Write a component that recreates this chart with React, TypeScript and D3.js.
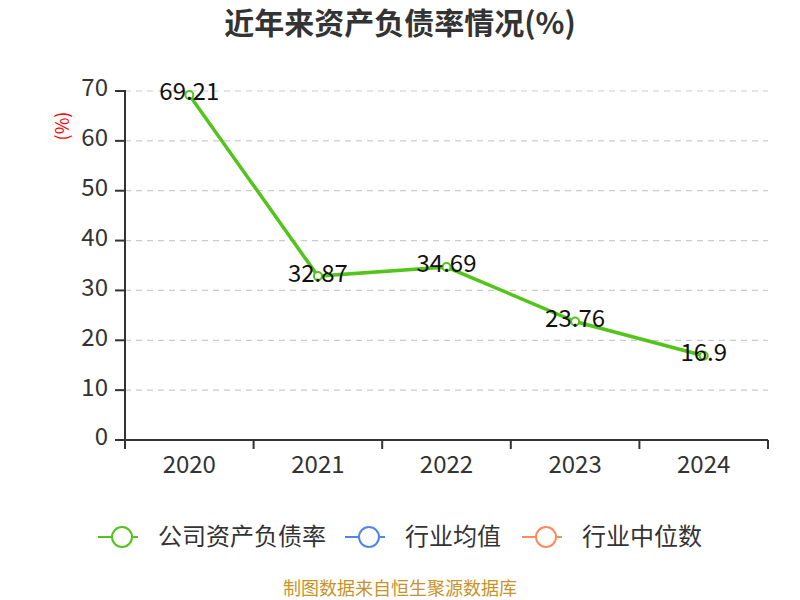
import React from "react";
import * as d3 from "d3";

const categories = ["2020", "2021", "2022", "2023", "2024"];
const companyValues = [69.21, 32.87, 34.69, 23.76, 16.9];
const yTicks = [0, 10, 20, 30, 40, 50, 60, 70];
const legendItems = [
  { name: "公司资产负债率", color: "#52c41a" },
  { name: "行业均值", color: "#4f86e8" },
  { name: "行业中位数", color: "#ff8a5c" },
];

const W = 800, H = 600;
const left = 125, right = 768, top = 91, bottom = 440;
const font = "'Noto Sans CJK SC', 'Noto Sans', sans-serif";

export default function App() {
  const x = d3.scaleBand<string>().domain(categories).range([left, right]);
  const y = d3.scaleLinear().domain([0, 70]).range([bottom, top]);
  const line = d3
    .line<number>()
    .x((_, i) => (x(categories[i]) as number) + x.bandwidth() / 2)
    .y((d) => y(d));
  const green = "#52c41a";
  const legendX = [98, 345, 522];
  return (
    <svg width={W} height={H} style={{ position: "absolute", left: 0, top: 0, fontFamily: font }}>
      <text x={400} y={23} dy="0.36em" textAnchor="middle" fontSize={30} fontWeight="bold" fill="#333">
        近年来资产负债率情况(%)
      </text>
      <text
        x={0}
        y={0}
        dy="0.35em"
        transform={`translate(63,126) rotate(-90)`}
        textAnchor="middle"
        fontSize={18}
        fill="#ff0000"
      >
        (%)
      </text>
      {yTicks.map((t) => (
        <g key={t}>
          {t > 0 && (
            <line x1={left} x2={right} y1={y(t)} y2={y(t)} stroke="#ccc" strokeDasharray="6,5" strokeWidth={1.2} />
          )}
          <line x1={left - 10} x2={left} y1={y(t)} y2={y(t)} stroke="#333" strokeWidth={2} />
          <text x={left - 17} y={y(t) - 3} dy="0.35em" textAnchor="end" fontSize={24} fill="#333">
            {t}
          </text>
        </g>
      ))}
      <line x1={left} x2={left} y1={top - 1} y2={bottom} stroke="#333" strokeWidth={2} />
      <line x1={left} x2={right} y1={bottom} y2={bottom} stroke="#333" strokeWidth={2} />
      {[...categories.map((c) => x(c) as number), right].map((t, i) => (
        <line key={i} x1={t} x2={t} y1={bottom} y2={bottom + 9} stroke="#333" strokeWidth={2} />
      ))}
      {categories.map((c) => (
        <text
          key={c}
          x={(x(c) as number) + x.bandwidth() / 2}
          y={465}
          dy="0.35em"
          textAnchor="middle"
          fontSize={24}
          fill="#333"
        >
          {c}
        </text>
      ))}
      <path d={line(companyValues) || ""} fill="none" stroke={green} strokeWidth={3.5} />
      {companyValues.map((v, i) => {
        const cx = (x(categories[i]) as number) + x.bandwidth() / 2;
        return (
          <g key={i}>
            <circle cx={cx} cy={y(v)} r={4} fill="#fff" stroke={green} strokeWidth={2} />
            <text x={cx} y={y(v) - 3} dy="0.35em" textAnchor="middle" fontSize={24} fill="#111">
              {v}
            </text>
          </g>
        );
      })}
      {legendItems.map((it, i) => (
        <g key={it.name}>
          <line x1={legendX[i]} x2={legendX[i] + 40} y1={537} y2={537} stroke={it.color} strokeWidth={2} />
          <circle cx={legendX[i] + 24} cy={537} r={10} fill="#fff" stroke={it.color} strokeWidth={2} />
          <text x={legendX[i] + 60} y={537} dy="0.35em" fontSize={24} fill="#333">
            {it.name}
          </text>
        </g>
      ))}
      <text x={400} y={589} textAnchor="middle" dy="0.35em" fontSize={18} fill="#c8922a">
        制图数据来自恒生聚源数据库
      </text>
    </svg>
  );
}
